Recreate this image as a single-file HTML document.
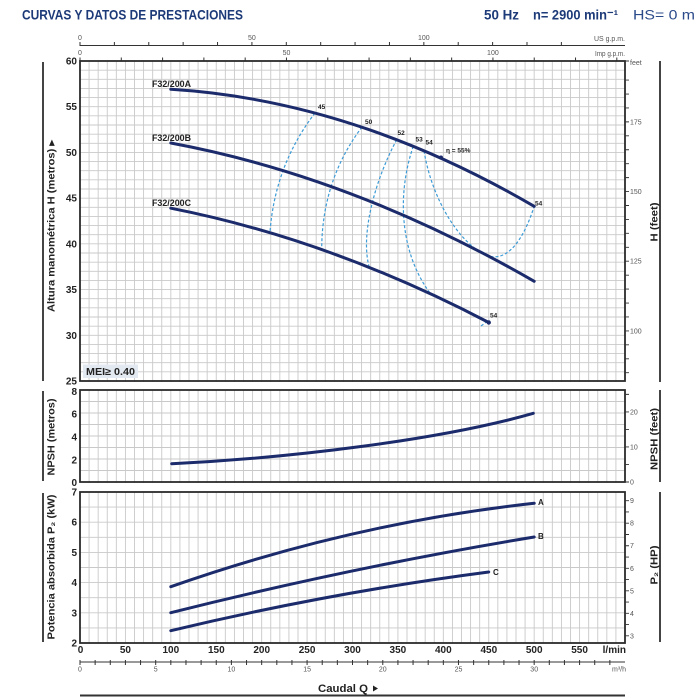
<!DOCTYPE html>
<html><head><meta charset="utf-8"><style>
html,body{margin:0;padding:0;background:#fff;}
svg{display:block;}
.b{font-family:"Liberation Sans",sans-serif;font-weight:bold;fill:#222;}
.s{font-family:"Liberation Sans",sans-serif;fill:#555;font-size:7px;}
</style></head><body>
<svg width="700" height="700" viewBox="0 0 700 700" xmlns="http://www.w3.org/2000/svg">
<rect width="700" height="700" fill="#fff"/>
<!-- header -->
<text x="22" y="19.5" class="b" style="fill:#1d3a78;font-size:14px" textLength="221" lengthAdjust="spacingAndGlyphs">CURVAS Y DATOS DE PRESTACIONES</text>
<text x="484" y="19.5" class="b" style="fill:#1d3a78;font-size:14px" textLength="35" lengthAdjust="spacingAndGlyphs">50 Hz</text>
<text x="533" y="19.5" class="b" style="fill:#1d3a78;font-size:14px" textLength="85" lengthAdjust="spacingAndGlyphs">n= 2900 min⁻¹</text>
<text x="633" y="19.5" style="font-family:'Liberation Sans',sans-serif;fill:#2a4a8a;font-size:14px" textLength="62" lengthAdjust="spacingAndGlyphs">HS= 0 m</text>

<!-- top axes -->
<line x1="80" y1="45.5" x2="625" y2="45.5" stroke="#333" stroke-width="1"/>
<path d="M80 42V46M114.38 42V46M148.77 42V46M183.15 42V46M217.54 42V46M251.92 42V46M286.3 42V46M320.69 42V46M355.07 42V46M389.46 42V46M423.84 42V46M458.22 42V46M492.61 42V46M526.99 42V46M561.38 42V46" stroke="#333" stroke-width="1"/>
<text x="80" y="40" class="s" text-anchor="middle">0</text>
<text x="251.9" y="40" class="s" text-anchor="middle">50</text>
<text x="423.8" y="40" class="s" text-anchor="middle">100</text>
<text x="625" y="41" class="s" text-anchor="end" textLength="31" lengthAdjust="spacingAndGlyphs">US g.p.m.</text>
<path d="M80 57.5V61M121.29 57.5V61M162.59 57.5V61M203.88 57.5V61M245.18 57.5V61M286.47 57.5V61M327.76 57.5V61M369.06 57.5V61M410.35 57.5V61M451.65 57.5V61M492.94 57.5V61M534.23 57.5V61M575.53 57.5V61M616.82 57.5V61" stroke="#333" stroke-width="1"/>
<text x="80" y="55" class="s" text-anchor="middle">0</text>
<text x="286.5" y="55" class="s" text-anchor="middle">50</text>
<text x="492.9" y="55" class="s" text-anchor="middle">100</text>
<text x="625" y="56" class="s" text-anchor="end" textLength="30" lengthAdjust="spacingAndGlyphs">Imp g.p.m.</text>

<!-- grid -->
<g stroke="#c9c9c9" stroke-width="0.9" fill="none">
<path d="M89.08 61V643M98.17 61V643M107.25 61V643M116.33 61V643M125.42 61V643M134.5 61V643M143.58 61V643M152.67 61V643M161.75 61V643M170.83 61V643M179.92 61V643M189 61V643M198.08 61V643M207.17 61V643M216.25 61V643M225.33 61V643M234.42 61V643M243.5 61V643M252.58 61V643M261.67 61V643M270.75 61V643M279.83 61V643M288.92 61V643M298 61V643M307.08 61V643M316.17 61V643M325.25 61V643M334.33 61V643M343.42 61V643M352.5 61V643M361.58 61V643M370.67 61V643M379.75 61V643M388.83 61V643M397.92 61V643M407 61V643M416.08 61V643M425.17 61V643M434.25 61V643M443.33 61V643M452.42 61V643M461.5 61V643M470.58 61V643M479.67 61V643M488.75 61V643M497.83 61V643M506.92 61V643M516 61V643M525.08 61V643M534.17 61V643M543.25 61V643M552.33 61V643M561.42 61V643M570.5 61V643M579.58 61V643M588.67 61V643M597.75 61V643M606.83 61V643M615.92 61V643"/>
<path d="M80 70.14H625M80 79.29H625M80 88.43H625M80 97.57H625M80 106.71H625M80 115.86H625M80 125H625M80 134.14H625M80 143.29H625M80 152.43H625M80 161.57H625M80 170.71H625M80 179.86H625M80 189H625M80 198.14H625M80 207.29H625M80 216.43H625M80 225.57H625M80 234.71H625M80 243.86H625M80 253H625M80 262.14H625M80 271.29H625M80 280.43H625M80 289.57H625M80 298.71H625M80 307.86H625M80 317H625M80 326.14H625M80 335.29H625M80 344.43H625M80 353.57H625M80 362.71H625M80 371.86H625"/>
<path d="M80 401.5H625M80 413H625M80 424.5H625M80 436H625M80 447.5H625M80 459H625M80 470.5H625"/>
<path d="M80 507.1H625M80 522.2H625M80 537.3H625M80 552.4H625M80 567.5H625M80 582.6H625M80 597.7H625M80 612.8H625M80 627.9H625"/>
</g>
<rect x="79" y="382" width="548" height="7.5" fill="#fff"/>
<rect x="79" y="483" width="548" height="8.5" fill="#fff"/>
<!-- frames -->
<g fill="none" stroke="#2b2b2b" stroke-width="1.8">
<rect x="80" y="61" width="545" height="320"/>
<rect x="80" y="390" width="545" height="92"/>
<rect x="80" y="492" width="545" height="151"/>
</g>
<!-- side bars -->
<g fill="#444">
<rect x="42" y="62" width="2" height="319"/>
<rect x="42" y="391" width="2" height="90"/>
<rect x="42" y="493" width="2" height="149"/>
<rect x="659" y="61" width="2" height="321"/>
<rect x="659" y="390" width="2" height="92"/>
<rect x="659" y="492" width="2" height="150"/>
</g>

<!-- left labels main -->
<g class="b" style="font-size:10px" text-anchor="end">
<text x="77" y="64.5">60</text><text x="77" y="110.2">55</text><text x="77" y="155.9">50</text><text x="77" y="201.6">45</text><text x="77" y="247.4">40</text><text x="77" y="293.1">35</text><text x="77" y="338.8">30</text><text x="77" y="384.5">25</text>
<text x="77" y="395">8</text><text x="77" y="417.5">6</text><text x="77" y="440.5">4</text><text x="77" y="463.5">2</text><text x="77" y="486">0</text>
<text x="77" y="495.5">7</text><text x="77" y="525.7">6</text><text x="77" y="555.9">5</text><text x="77" y="586.1">4</text><text x="77" y="616.3">3</text><text x="77" y="646.5">2</text>
</g>

<!-- right ticks -->
<g stroke="#333" stroke-width="0.9">
<path d="M625 61H629M625 80.08H629M625 94.02H629M625 107.95H629M625 121.88H629M625 135.82H629M625 149.75H629M625 163.69H629M625 177.62H629M625 191.55H629M625 205.49H629M625 219.42H629M625 233.36H629M625 247.29H629M625 261.23H629M625 275.16H629M625 289.1H629M625 303.03H629M625 316.97H629M625 330.9H629M625 344.83H629M625 358.77H629M625 372.7H629"/>
<path d="M625 464.47H629M625 446.95H629M625 429.42H629M625 411.9H629M625 394.37H629M625 482H629"/>
<path d="M625 635.84H629M625 624.58H629M625 613.31H629M625 602.05H629M625 590.79H629M625 579.54H629M625 568.28H629M625 557.02H629M625 545.75H629M625 534.49H629M625 523.23H629M625 511.97H629M625 500.72H629"/>
</g>
<g class="s">
<text x="630" y="65">feet</text>
<text x="630" y="124.4">175</text><text x="630" y="194">150</text><text x="630" y="263.7">125</text><text x="630" y="333.4">100</text>
<text x="630" y="484.5">0</text><text x="630" y="449.4">10</text><text x="630" y="414.4">20</text>
<text x="630" y="638.3">3</text><text x="630" y="615.8">4</text><text x="630" y="593.3">5</text><text x="630" y="570.8">6</text><text x="630" y="548.2">7</text><text x="630" y="525.7">8</text><text x="630" y="503.2">9</text>
</g>

<!-- rotated axis titles -->
<text transform="translate(54.5,226) rotate(-90)" class="b" style="font-size:10px" text-anchor="middle" textLength="172" lengthAdjust="spacingAndGlyphs">Altura manométrica H  (metros)  ▸</text>
<text transform="translate(54.5,437) rotate(-90)" class="b" style="font-size:10px" text-anchor="middle" textLength="77" lengthAdjust="spacingAndGlyphs">NPSH  (metros)</text>
<text transform="translate(54.5,567) rotate(-90)" class="b" style="font-size:10px" text-anchor="middle" textLength="145" lengthAdjust="spacingAndGlyphs">Potencia absorbida  P₂  (kW)</text>
<text transform="translate(657.5,222) rotate(-90)" class="b" style="font-size:10px" text-anchor="middle" textLength="39" lengthAdjust="spacingAndGlyphs">H  (feet)</text>
<text transform="translate(657.5,439) rotate(-90)" class="b" style="font-size:10px" text-anchor="middle" textLength="62" lengthAdjust="spacingAndGlyphs">NPSH  (feet)</text>
<text transform="translate(657.5,565) rotate(-90)" class="b" style="font-size:10px" text-anchor="middle" textLength="39" lengthAdjust="spacingAndGlyphs">P₂  (HP)</text>

<!-- efficiency dashed -->
<g fill="none" stroke="#3d9bd6" stroke-width="1.2" stroke-dasharray="3,2">
<path d="M315,113 Q275,165 270,232"/>
<path d="M362,127 Q322,180 321.7,249"/>
<path d="M396.7,139.7 C375,180 360,235 369.3,267.4"/>
<path d="M413.3,146.3 C398,190 398,250 430,293"/>
<path d="M424,150.8 C432,200 460,245 488.3,256 C510,262 525,235 534.2,206.3"/>
<path d="M481,326 L489,320"/>
</g>

<!-- H curves -->
<g fill="none" stroke="#1c2b6b" stroke-width="3" stroke-linecap="round">
<path d="M170.8,89.3 Q352.5,100.4 534.2,206.3"/>
<path d="M170.8,143.0 Q352.5,176.7 534.2,281.3"/>
<path d="M170.8,208.2 Q329.8,239.5 488.75,322.5"/>
<path d="M171.7,463.7 C290,458 440,440 533.3,413.3"/>
<path d="M170.8,586.7 Q352.5,523 534.2,503.3"/>
<path d="M170.8,612.7 Q352.5,567 534.2,537"/>
<path d="M170.8,630.7 Q329.8,592.6 488.75,572"/>
</g>
<circle cx="441" cy="157.5" r="2" fill="#1c2b6b"/>
<circle cx="488.75" cy="322.5" r="2.2" fill="#1c2b6b"/>

<!-- curve labels -->
<g class="b" style="font-size:9.5px">
<text x="152" y="87" textLength="39" lengthAdjust="spacingAndGlyphs">F32/200A</text>
<text x="152" y="141" textLength="39" lengthAdjust="spacingAndGlyphs">F32/200B</text>
<text x="152" y="206" textLength="39" lengthAdjust="spacingAndGlyphs">F32/200C</text>
<text x="538" y="505" style="font-size:8px">A</text>
<text x="538" y="539" style="font-size:8px">B</text>
<text x="493" y="575" style="font-size:8px">C</text>
</g>
<g class="b" style="font-size:6.5px">
<text x="318" y="109">45</text>
<text x="365" y="124">50</text>
<text x="397.5" y="135">52</text>
<text x="415.5" y="141.5">53</text>
<text x="425.5" y="144.5">54</text>
<text x="446" y="152.5">η = 55%</text>
<text x="535" y="205.5">54</text>
<text x="490" y="317.5">54</text>
</g>

<!-- MEI -->
<rect x="83" y="364.5" width="55" height="13.5" fill="#e3e9f1"/>
<text x="86" y="375" class="b" style="font-size:10px" textLength="49" lengthAdjust="spacingAndGlyphs">MEI≥ 0.40</text>

<!-- bottom l/min labels -->
<g class="b" style="font-size:10px" text-anchor="middle">
<text x="80.5" y="653">0</text><text x="125.4" y="653">50</text><text x="170.8" y="653">100</text><text x="216.3" y="653">150</text><text x="261.7" y="653">200</text><text x="307.1" y="653">250</text><text x="352.5" y="653">300</text><text x="397.9" y="653">350</text><text x="443.3" y="653">400</text><text x="488.8" y="653">450</text><text x="534.2" y="653">500</text><text x="579.6" y="653">550</text>
</g>
<text x="626" y="653" class="b" style="font-size:10px" text-anchor="end">l/min</text>

<!-- m3/h axis -->
<line x1="80" y1="662" x2="625" y2="662" stroke="#333" stroke-width="1"/>
<path d="M80 660V665M95.14 660V665M110.28 660V665M125.42 660V665M140.56 660V665M155.69 660V665M170.83 660V665M185.97 660V665M201.11 660V665M216.25 660V665M231.39 660V665M246.53 660V665M261.67 660V665M276.81 660V665M291.94 660V665M307.08 660V665M322.22 660V665M337.36 660V665M352.5 660V665M367.64 660V665M382.78 660V665M397.92 660V665M413.06 660V665M428.19 660V665M443.33 660V665M458.47 660V665M473.61 660V665M488.75 660V665M503.89 660V665M519.03 660V665M534.17 660V665M549.31 660V665M564.44 660V665M579.58 660V665M594.72 660V665M609.86 660V665" stroke="#333" stroke-width="1"/>
<g class="s" text-anchor="middle">
<text x="80" y="671.5">0</text><text x="155.7" y="671.5">5</text><text x="231.4" y="671.5">10</text><text x="307.1" y="671.5">15</text><text x="382.8" y="671.5">20</text><text x="458.5" y="671.5">25</text><text x="534.2" y="671.5">30</text>
</g>
<text x="626" y="671.5" class="s" text-anchor="end">m³/h</text>

<!-- caudal -->
<text x="318" y="692" class="b" style="font-size:11px" textLength="50" lengthAdjust="spacingAndGlyphs">Caudal  Q</text>
<path d="M373 685.5 L378 688.5 L373 691.5 Z" fill="#222"/>
<rect x="80" y="694.5" width="545" height="2" fill="#333"/>
</svg>
</body></html>
